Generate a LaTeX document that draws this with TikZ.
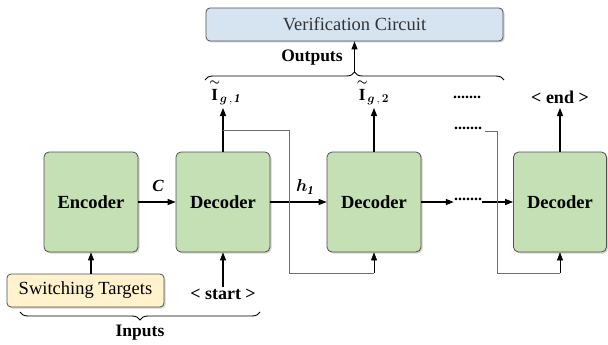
\documentclass[tikz,border=0pt]{standalone}
\usepackage{fontspec}
\setmainfont{Liberation Serif}
\usepackage{amsmath,bm}
\usetikzlibrary{arrows.meta,decorations.pathreplacing,shadows}
\definecolor{boxgreen}{HTML}{C5E0B4}
\definecolor{boxblue}{HTML}{D6E4F2}
\definecolor{boxyellow}{HTML}{FFF2CC}
\definecolor{edgegray}{HTML}{505050}
\tikzset{
  unit/.style={draw=edgegray, line width=0.8pt, fill=boxgreen, rounded corners=5pt,
    minimum width=94pt, minimum height=100pt, font=\fontsize{18.5}{20}\selectfont\bfseries,
    drop shadow={shadow xshift=1.5pt, shadow yshift=-1.5pt, opacity=0.35}},
  flat/.style={draw=edgegray, line width=0.8pt, rounded corners=4pt,
    drop shadow={shadow xshift=1.5pt, shadow yshift=-1.5pt, opacity=0.35}},
  lbl/.style={font=\fontsize{17.5}{19}\selectfont\bfseries, inner sep=0pt},
  arr/.style={line width=1.1pt, -{Triangle[length=8pt,width=6pt]}},
  fb/.style={draw=gray!85!black, line width=0.6pt},
  fbarr/.style={fb, -{Triangle[length=8pt,width=6pt]}, black},
  brc/.style={decorate, decoration={brace, amplitude=8pt}, line width=0.9pt},
  dots/.style={font=\fontsize{16}{18}\selectfont\bfseries, inner sep=0pt}
}
\begin{document}
\begin{tikzpicture}[x=1pt,y=-1pt]
\useasboundingbox (0,0) rectangle (608,345);
% main nodes
\node[unit] (enc) at (91,202) {Encoder};
\node[unit] (dec1) at (223,202) {Decoder};
\node[unit] (dec2) at (374,202) {Decoder};
\node[unit, minimum width=93pt] (dec3) at (560,202) {Decoder};
\node[flat, fill=boxblue, minimum width=297pt, minimum height=33pt,
  font=\fontsize{18.5}{20}\selectfont, text=black!80] (vc) at (354.5,24.5) {Verification Circuit};
\node[flat, fill=boxyellow, minimum width=157pt, minimum height=33pt,
  font=\fontsize{18.5}{20}\selectfont] (st) at (85.5,290.5) {Switching Targets};
\node[lbl, font=\fontsize{18}{19}\selectfont\bfseries] (start) at (223,294) {< start >};
\node[lbl, font=\fontsize{18}{19}\selectfont\bfseries] (end) at (560,97) {< end >};
\node[inner sep=0pt, font=\fontsize{17}{18}\selectfont] (i1) at (225,92)
  {$\overset{\boldsymbol{\sim}}{\mathbf{I}}_{\boldsymbol{g}\,,\,\boldsymbol{\mathit{1}}}$};
\node[inner sep=0pt, font=\fontsize{17}{18}\selectfont] (i2) at (373,92)
  {$\overset{\boldsymbol{\sim}}{\mathbf{I}}_{\boldsymbol{g}\,,\,\boldsymbol{2}}$};
\node[dots] (d1) at (467,97) {.......};
\node[dots] (d2) at (468,128) {.......};
\node[dots] (d3) at (468,199) {.......};
\node[lbl, font=\fontsize{17}{18}\selectfont\bfseries\itshape] (c) at (158,186) {C};
\node[lbl, font=\fontsize{17}{18}\selectfont] (h) at (305,187) {$\boldsymbol{h_{\mathit{1}}}$};
\node[lbl] (outs) at (312,58) {Outputs};
\node[lbl] (ins) at (140,333) {Inputs};

% coordinates
\coordinate (b1l) at (20,312);
\coordinate (b1r) at (260,312);
\coordinate (b2l) at (205,80);
\coordinate (b2r) at (504,80);
\coordinate (btop) at (354.5,72);
\coordinate (o1) at (223,108);
\coordinate (o2) at (374,108);
\coordinate (o3) at (560,108);
\coordinate (f1a) at (223,130);
\coordinate (f1b) at (289,130);
\coordinate (f1c) at (289,273);
\coordinate (f1d) at (374,273);
\coordinate (f2a) at (485,131);
\coordinate (f2b) at (497,131);
\coordinate (f2c) at (497,273);
\coordinate (f2d) at (560,273);

% braces
\draw[brc] (b1r) -- (b1l);
\draw[brc] (b2l) -- (b2r);

% arrows
\draw[arr] (enc) -- (dec1);
\draw[arr] (dec1) -- (dec2);
\draw[arr] (dec2.east) -- (d3.west |- dec2.east);
\draw[arr] (d3.east |- dec3.west) -- (dec3.west);
\draw[arr] (st.north -| enc.south) -- (enc.south);
\draw[arr] (start.north) ++(0,-1) -- (dec1.south);
\draw[arr] (dec1.north) -- (o1);
\draw[arr] (dec2.north) -- (o2);
\draw[arr] (dec3.north) -- (o3);
\draw[arr] (btop) -- (vc.south);

% feedback lines
\draw[fb] (f1a) -- (f1b) -- (f1c) -- (f1d);
\draw[fbarr] (f1d) -- (dec2.south);
\draw[fb] (f2a) -- (f2b) -- (f2c) -- (f2d);
\draw[fbarr] (f2d) -- (dec3.south);
\end{tikzpicture}
\end{document}
